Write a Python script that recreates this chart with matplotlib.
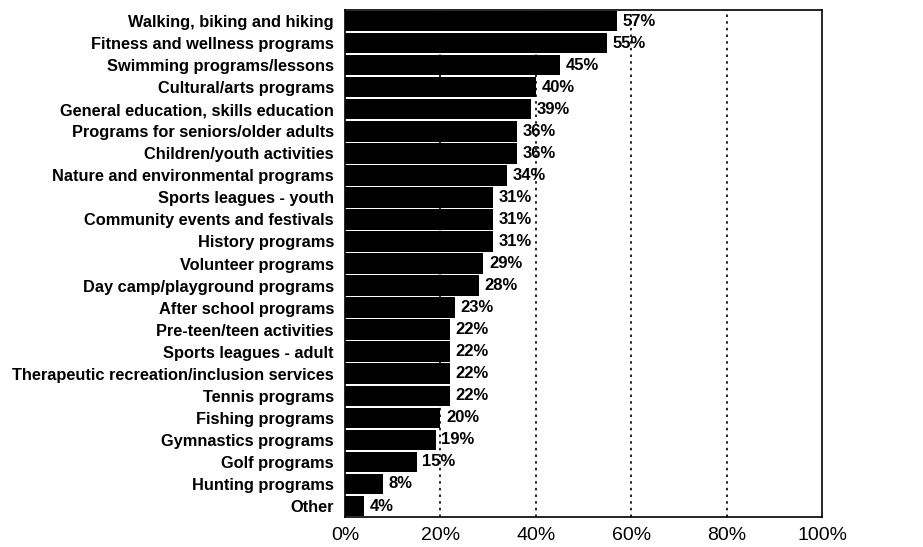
import numpy as np
import matplotlib.pyplot as plt
import matplotlib.ticker as ticker

categories = [
    'Walking, biking and hiking',
    'Fitness and wellness programs',
    'Swimming programs/lessons',
    'Cultural/arts programs',
    'General education, skills education',
    'Programs for seniors/older adults',
    'Children/youth activities',
    'Nature and environmental programs',
    'Sports leagues - youth',
    'Community events and festivals',
    'History programs',
    'Volunteer programs',
    'Day camp/playground programs',
    'After school programs',
    'Pre-teen/teen activities',
    'Sports leagues - adult',
    'Therapeutic recreation/inclusion services',
    'Tennis programs',
    'Fishing programs',
    'Gymnastics programs',
    'Golf programs',
    'Hunting programs',
    'Other',
]
percent = [57, 55, 45, 40, 39, 36, 36, 34, 31, 31, 31, 29, 28, 23, 22, 22, 22, 22, 20, 19, 15, 8, 4]
x_ticks = [0, 20, 40, 60, 80, 100]

plt.rcParams['font.family'] = ['Liberation Sans', 'DejaVu Sans']

fig = plt.figure(figsize=(9.23, 5.47), dpi=100)
ax = fig.add_axes([0.3738, 0.0548, 0.5169, 0.9269])

y = np.arange(len(categories))
bars = ax.barh(y, percent, height=0.93, color='black', zorder=2)
ax.bar_label(bars, labels=[f'{v}%' for v in percent], padding=4,
             fontsize=12, fontweight='bold', zorder=3)

ax.set_xlim(0, 100)
ax.set_ylim(len(categories) - 0.5, -0.5)
ax.set_yticks(y)
ax.set_yticklabels(categories, fontsize=11.8, fontweight='bold')
ax.set_xticks(x_ticks)
ax.xaxis.set_major_formatter(ticker.FuncFormatter(lambda v, pos: f'{v:.0f}%'))
ax.tick_params(axis='x', labelsize=14, length=0, pad=7)
ax.tick_params(axis='y', length=0, pad=8)

for v in x_ticks[1:-1]:
    ax.axvline(v, color='black', linestyle=(0, (1.5, 2.5)), linewidth=1.2, zorder=1)

for s in ax.spines.values():
    s.set_linewidth(1.2)
    s.set_color('black')

fig.savefig('out.png', dpi=100)
